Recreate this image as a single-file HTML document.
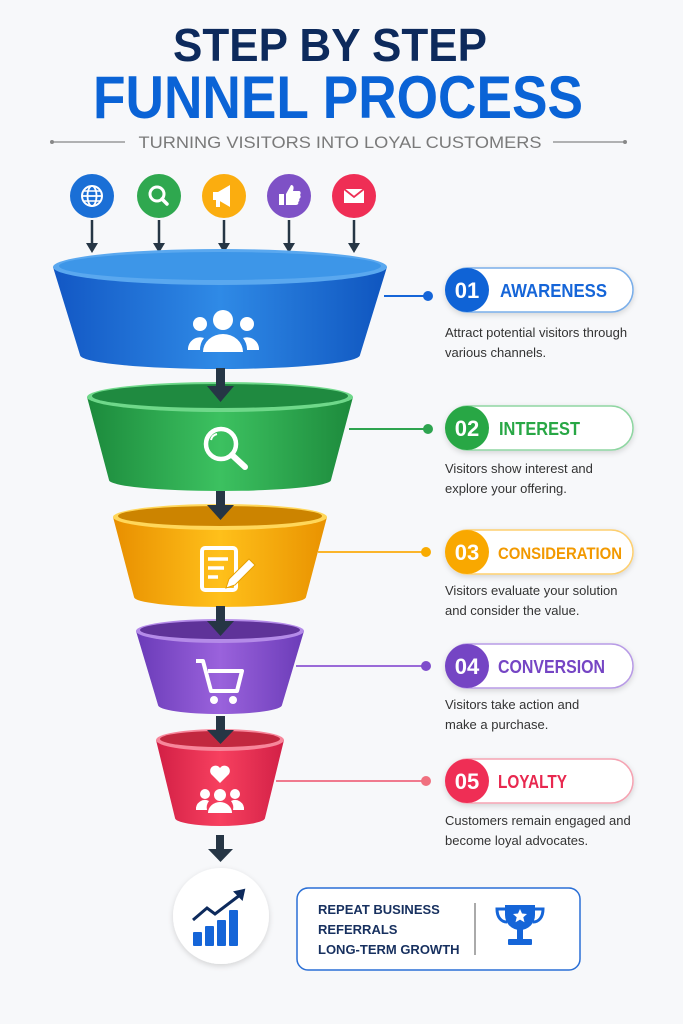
<!DOCTYPE html>
<html><head><meta charset="utf-8"><style>
html,body{margin:0;padding:0;background:#f7f8fa;}
svg{display:block}
text{font-family:"Liberation Sans",sans-serif}
</style></head><body>
<svg width="683" height="1024" viewBox="0 0 683 1024" xmlns="http://www.w3.org/2000/svg">
<defs>
<linearGradient id="gB" x1="0" x2="1"><stop offset="0" stop-color="#1257c4"/><stop offset=".5" stop-color="#2f8ae6"/><stop offset="1" stop-color="#0f55bf"/></linearGradient>
<linearGradient id="gG" x1="0" x2="1"><stop offset="0" stop-color="#1c8a3c"/><stop offset=".5" stop-color="#3cc160"/><stop offset="1" stop-color="#1d8a3c"/></linearGradient>
<linearGradient id="gO" x1="0" x2="1"><stop offset="0" stop-color="#e88f00"/><stop offset=".5" stop-color="#ffc01a"/><stop offset="1" stop-color="#e99200"/></linearGradient>
<linearGradient id="gP" x1="0" x2="1"><stop offset="0" stop-color="#6a3bb8"/><stop offset=".5" stop-color="#9a62dc"/><stop offset="1" stop-color="#6b3cb8"/></linearGradient>
<linearGradient id="gR" x1="0" x2="1"><stop offset="0" stop-color="#d21f45"/><stop offset=".5" stop-color="#f7405f"/><stop offset="1" stop-color="#d22046"/></linearGradient>
<filter id="sh" x="-20%" y="-20%" width="140%" height="140%"><feDropShadow dx="0" dy="2" stdDeviation="3" flood-opacity="0.15"/></filter>
</defs>

<text x="330" y="61" text-anchor="middle" font-size="46" font-weight="bold" fill="#0d2a5c" textLength="314" lengthAdjust="spacingAndGlyphs">STEP BY STEP</text>
<text x="338" y="118" text-anchor="middle" font-size="60" font-weight="bold" fill="#0a63d6" textLength="490" lengthAdjust="spacingAndGlyphs">FUNNEL PROCESS</text>
<line x1="52" y1="142" x2="125" y2="142" stroke="#999" stroke-width="1.5"/><circle cx="52" cy="142" r="2" fill="#888"/>
<line x1="553" y1="142" x2="625" y2="142" stroke="#999" stroke-width="1.5"/><circle cx="625" cy="142" r="2" fill="#888"/>
<text x="340" y="148" text-anchor="middle" font-size="17" fill="#7a7a7a" textLength="403" lengthAdjust="spacingAndGlyphs">TURNING VISITORS INTO LOYAL CUSTOMERS</text>

<g>
<circle cx="92" cy="196" r="22" fill="#1a6fd6"/>
<circle cx="92" cy="196" r="10" fill="none" stroke="#fff" stroke-width="2"/><ellipse cx="92" cy="196" rx="4.5" ry="10" fill="none" stroke="#fff" stroke-width="1.8"/><line x1="82" y1="196" x2="102" y2="196" stroke="#fff" stroke-width="1.8"/><line x1="84" y1="191" x2="100" y2="191" stroke="#fff" stroke-width="1.5"/><line x1="84" y1="201" x2="100" y2="201" stroke="#fff" stroke-width="1.5"/>
<circle cx="159" cy="196" r="22" fill="#2fa84f"/>
<circle cx="157" cy="194" r="7" fill="none" stroke="#fff" stroke-width="3"/><line x1="162" y1="199" x2="167" y2="204" stroke="#fff" stroke-width="3.5" stroke-linecap="round"/>
<circle cx="224" cy="196" r="22" fill="#fbad0f"/>
<path d="M213 192 h5 l12 -7 v22 l-12 -7 h-5 z" fill="#fff"/><rect x="216" y="199" width="4" height="8" fill="#fff"/>
<circle cx="289" cy="196" r="22" fill="#7e51c6"/>
<rect x="279" y="194" width="5" height="11" fill="#fff"/><path d="M286 194 l5 -9 c3 0 3 3 2 6 h6 c2 0 2 3 1 4 c1 1 1 3 -1 4 c1 1 0 3 -1 3 c1 1 0 3 -2 3 h-10 z" fill="#fff"/>
<circle cx="354" cy="196" r="22" fill="#ef2e55"/>
<rect x="344" y="189" width="20" height="14" fill="#fff"/><path d="M344 189 l10 8 l10 -8" fill="none" stroke="#ef2e55" stroke-width="1.8"/>
</g>
<g stroke="#263645" stroke-width="2.5"><line x1="92" y1="220" x2="92" y2="245"/><line x1="159" y1="220" x2="159" y2="245"/><line x1="224" y1="220" x2="224" y2="245"/><line x1="289" y1="220" x2="289" y2="245"/><line x1="354" y1="220" x2="354" y2="245"/></g>
<g fill="#263645"><path d="M86 243 h12 l-6 10z"/><path d="M153 243 h12 l-6 10z"/><path d="M218 243 h12 l-6 10z"/><path d="M283 243 h12 l-6 10z"/><path d="M348 243 h12 l-6 10z"/></g>

<line x1="384" y1="296" x2="428" y2="296" stroke="#1565d8" stroke-width="2"/><circle cx="428" cy="296" r="5" fill="#1565d8"/>
<line x1="349" y1="429" x2="428" y2="429" stroke="#2ea44f" stroke-width="2"/><circle cx="428" cy="429" r="5" fill="#2ea44f"/>
<line x1="318" y1="552" x2="426" y2="552" stroke="#fbb52a" stroke-width="2"/><circle cx="426" cy="552" r="5" fill="#f9ab00"/>
<line x1="296" y1="666" x2="426" y2="666" stroke="#9a6ad8" stroke-width="2"/><circle cx="426" cy="666" r="5" fill="#7e4ccb"/>
<line x1="276" y1="781" x2="426" y2="781" stroke="#f07a8e" stroke-width="2"/><circle cx="426" cy="781" r="5" fill="#f0707f"/>

<path d="M53 267 L80 355 A140 14 0 0 0 360 355 L387 267 Z" fill="url(#gB)"/>
<ellipse cx="220" cy="267" rx="167" ry="18" fill="#5aa8ef"/>
<ellipse cx="220" cy="266" rx="161" ry="14" fill="#3d96e8"/>
<path d="M87 397 L109 480 A111 11 0 0 0 331 480 L353 397 Z" fill="url(#gG)"/>
<ellipse cx="220" cy="397" rx="133" ry="15" fill="#6fd88a"/>
<ellipse cx="220" cy="396" rx="128" ry="12" fill="#1f8a40"/>
<path d="M113 517 L134 597 A86 10 0 0 0 306 597 L327 517 Z" fill="url(#gO)"/>
<ellipse cx="220" cy="517" rx="107" ry="13" fill="#ffd75a"/>
<ellipse cx="220" cy="516" rx="102" ry="10" fill="#cc8400"/>
<path d="M136 631 L158 705 A62 9 0 0 0 282 705 L304 631 Z" fill="url(#gP)"/>
<ellipse cx="220" cy="631" rx="84" ry="12" fill="#b48be8"/>
<ellipse cx="220" cy="630" rx="80" ry="9" fill="#5f3399"/>
<path d="M156 740 L175 818 A45 8 0 0 0 265 818 L284 740 Z" fill="url(#gR)"/>
<ellipse cx="220" cy="740" rx="64" ry="11" fill="#f7879b"/>
<ellipse cx="220" cy="739" rx="60" ry="8" fill="#c2283f"/>

<g fill="#263645">
<rect x="216" y="368" width="9" height="20"/><path d="M207 386 h27 l-13.5 16z"/>
<rect x="216" y="491" width="9" height="16"/><path d="M207 505 h27 l-13.5 15z"/>
<rect x="216" y="606" width="9" height="17"/><path d="M207 621 h27 l-13.5 15z"/>
<rect x="216" y="716" width="9" height="15"/><path d="M207 730 h27 l-13.5 14z"/>
<rect x="216" y="835" width="8" height="15"/><path d="M208 849 h25 l-12.5 13z"/>
</g>

<g fill="#fff">
<circle cx="223" cy="320" r="10"/><path d="M203 352 a20 18 0 0 1 40 0 z"/>
<circle cx="200" cy="324" r="7"/><path d="M188 350 a12 12 0 0 1 16 -12 a22 20 0 0 0 -4 12 z"/>
<circle cx="247" cy="324" r="7"/><path d="M259 350 a12 12 0 0 0 -16 -12 a22 20 0 0 1 4 12 z"/>
</g>
<circle cx="221" cy="444" r="15" fill="none" stroke="#fff" stroke-width="4.5"/>
<line x1="232" y1="455" x2="245" y2="467" stroke="#fff" stroke-width="6" stroke-linecap="round"/>
<path d="M211 440 a8 8 0 0 1 6 -6" stroke="#fff" stroke-width="2" fill="none"/>
<rect x="202" y="548" width="34" height="42" rx="3" fill="none" stroke="#fff" stroke-width="4"/>
<g stroke="#fff" stroke-width="3.5"><line x1="208" y1="559" x2="228" y2="559"/><line x1="208" y1="568" x2="224" y2="568"/><line x1="208" y1="577" x2="218" y2="577"/></g>
<path d="M226 588 l3 -9 l20 -20 l6 6 l-20 20 z" fill="#fff" stroke="#e6a000" stroke-width="1"/>
<path d="M196 661 h7 l8 30 h26 l5 -20 h-34" fill="none" stroke="#fff" stroke-width="4" stroke-linejoin="round"/>
<circle cx="214" cy="700" r="4" fill="#fff"/><circle cx="233" cy="700" r="4" fill="#fff"/>
<path d="M220 783 l-9 -9 a5 5 0 0 1 9 -6 a5 5 0 0 1 9 6 z" fill="#fff"/>
<g fill="#fff">
<circle cx="220" cy="795" r="6"/><path d="M208 813 a12 11 0 0 1 24 0 z"/>
<circle cx="205" cy="794" r="5"/><path d="M196 810 a9 9 0 0 1 13 -9 a14 12 0 0 0 -2 9 z"/>
<circle cx="235" cy="794" r="5"/><path d="M244 810 a9 9 0 0 0 -13 -9 a14 12 0 0 1 2 9 z"/>
</g>

<g font-family="Liberation Sans, sans-serif">
<rect x="446" y="268" width="187" height="44" rx="22" fill="#fff" stroke="#7aaee9" stroke-width="1.5" filter="url(#sh)"/>
<circle cx="467" cy="290" r="22" fill="#0f63d6"/>
<text x="467" y="298" text-anchor="middle" font-size="22" font-weight="bold" fill="#fff">01</text>
<text x="500" y="297" font-size="18" font-weight="bold" fill="#1565d8" textLength="107" lengthAdjust="spacingAndGlyphs">AWARENESS</text>
<text x="445" y="337" font-size="13" fill="#333">Attract potential visitors through</text>
<text x="445" y="357" font-size="13" fill="#333">various channels.</text>

<rect x="446" y="406" width="187" height="44" rx="22" fill="#fff" stroke="#8fd6a2" stroke-width="1.5" filter="url(#sh)"/>
<circle cx="467" cy="428" r="22" fill="#28a745"/>
<text x="467" y="436" text-anchor="middle" font-size="22" font-weight="bold" fill="#fff">02</text>
<text x="499" y="435" font-size="18" font-weight="bold" fill="#28a745" textLength="81" lengthAdjust="spacingAndGlyphs">INTEREST</text>
<text x="445" y="473" font-size="13" fill="#333">Visitors show interest and</text>
<text x="445" y="493" font-size="13" fill="#333">explore your offering.</text>

<rect x="446" y="530" width="187" height="44" rx="22" fill="#fff" stroke="#fdcf6f" stroke-width="1.5" filter="url(#sh)"/>
<circle cx="467" cy="552" r="22" fill="#f9a800"/>
<text x="467" y="560" text-anchor="middle" font-size="22" font-weight="bold" fill="#fff">03</text>
<text x="498" y="559" font-size="17" font-weight="bold" fill="#f29900" textLength="124" lengthAdjust="spacingAndGlyphs">CONSIDERATION</text>
<text x="445" y="595" font-size="13" fill="#333">Visitors evaluate your solution</text>
<text x="445" y="615" font-size="13" fill="#333">and consider the value.</text>

<rect x="446" y="644" width="187" height="44" rx="22" fill="#fff" stroke="#b89be6" stroke-width="1.5" filter="url(#sh)"/>
<circle cx="467" cy="666" r="22" fill="#7545c4"/>
<text x="467" y="674" text-anchor="middle" font-size="22" font-weight="bold" fill="#fff">04</text>
<text x="498" y="673" font-size="18" font-weight="bold" fill="#7545c4" textLength="107" lengthAdjust="spacingAndGlyphs">CONVERSION</text>
<text x="445" y="709" font-size="13" fill="#333">Visitors take action and</text>
<text x="445" y="729" font-size="13" fill="#333">make a purchase.</text>

<rect x="446" y="759" width="187" height="44" rx="22" fill="#fff" stroke="#f5a3b2" stroke-width="1.5" filter="url(#sh)"/>
<circle cx="467" cy="781" r="22" fill="#ef2e55"/>
<text x="467" y="789" text-anchor="middle" font-size="22" font-weight="bold" fill="#fff">05</text>
<text x="498" y="788" font-size="18" font-weight="bold" fill="#e8284f" textLength="69" lengthAdjust="spacingAndGlyphs">LOYALTY</text>
<text x="445" y="825" font-size="13" fill="#333">Customers remain engaged and</text>
<text x="445" y="845" font-size="13" fill="#333">become loyal advocates.</text>
</g>

<circle cx="221" cy="916" r="48" fill="#fff" filter="url(#sh)"/>
<g fill="#1565d8"><rect x="193" y="932" width="9" height="14" rx="1"/><rect x="205" y="926" width="9" height="20" rx="1"/><rect x="217" y="920" width="9" height="26" rx="1"/><rect x="229" y="910" width="9" height="36" rx="1"/></g>
<path d="M193 920 l14 -12 l8 6 l25 -19" fill="none" stroke="#0d2a5c" stroke-width="3"/><path d="M235 892 l9 -2 l-2 9z" fill="#0d2a5c" stroke="#0d2a5c" stroke-width="2"/>

<rect x="297" y="888" width="283" height="82" rx="11" fill="#fff" stroke="#2a6fd6" stroke-width="1.5"/>
<text x="318" y="914" font-size="13" font-weight="bold" fill="#17305f">REPEAT BUSINESS</text>
<text x="318" y="934" font-size="13" font-weight="bold" fill="#17305f">REFERRALS</text>
<text x="318" y="954" font-size="13" font-weight="bold" fill="#17305f">LONG-TERM GROWTH</text>
<line x1="475" y1="903" x2="475" y2="955" stroke="#555" stroke-width="1"/>
<path d="M505 905 h30 v10 a15 15 0 0 1 -30 0 z" fill="#1565d8"/>
<path d="M505 909 h-8 c0 8 4 13 10 13 M535 909 h8 c0 8 -4 13 -10 13" fill="none" stroke="#1565d8" stroke-width="3"/>
<rect x="517" y="929" width="6" height="10" fill="#1565d8"/><rect x="508" y="939" width="24" height="6" rx="1" fill="#1565d8"/>
<path d="M520 909 l2 4.5 l5 .5 l-3.7 3.2 l1.2 5 l-4.5 -2.6 l-4.5 2.6 l1.2 -5 l-3.7 -3.2 l5 -.5z" fill="#fff"/>
</svg>
</body></html>
